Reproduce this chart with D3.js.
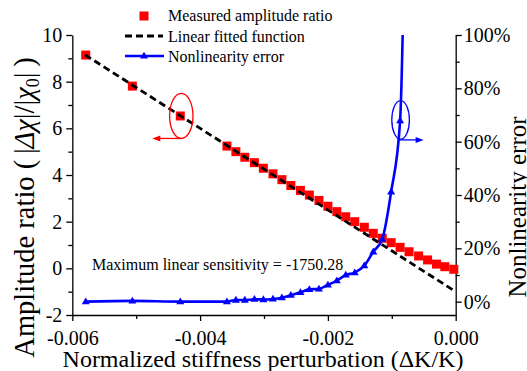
<!DOCTYPE html>
<html><head><meta charset="utf-8">
<script src="https://cdn.jsdelivr.net/npm/d3@7"></script>
<style>
body{margin:0;background:#fff}
svg{display:block}
text{font-family:"Liberation Serif","Times New Roman",serif;fill:#000}
</style>
</head><body>
<svg id="c" width="527" height="371"></svg>
<script>
// ---- data ----
const measuredX = [-0.00579, -0.00506, -0.00431, -0.00358, -0.00344, -0.00330, -0.00315, -0.00301, -0.00286, -0.00272, -0.00258, -0.00243, -0.00229, -0.00214, -0.00200, -0.00186, -0.00172, -0.00158, -0.00143, -0.00129, -0.00115, -0.00101, -0.00087, -0.00073, -0.00058, -0.00044, -0.00030, -0.00017, -0.00003];
const measuredY = [9.14, 7.81, 6.53, 5.24, 5.00, 4.76, 4.53, 4.29, 4.05, 3.80, 3.55, 3.34, 3.14, 2.91, 2.66, 2.43, 2.21, 2.00, 1.76, 1.50, 1.29, 1.10, 0.90, 0.71, 0.53, 0.36, 0.18, 0.07, -0.04];
const errorX = [-0.00579, -0.00506, -0.00431, -0.00358, -0.00344, -0.00330, -0.00315, -0.00301, -0.00286, -0.00272, -0.00258, -0.00243, -0.00229, -0.00214, -0.00200, -0.00186, -0.00172, -0.00158, -0.00143, -0.00129, -0.00115, -0.00101, -0.00087, -0.00073];
const errorPct = [0.0, 0.3, 0.0, 0.0, 0.6, 0.6, 0.9, 0.8, 1.0, 1.5, 2.4, 3.5, 4.6, 4.8, 6.3, 7.9, 10.0, 10.9, 13.5, 18.7, 23.4, 41.2, 67.9, 250];
const fitX = [-0.0058, 0.0];
const fitY = [9.15, -1.0];

const xTicks = [-0.006, -0.004, -0.002, 0.0];
const xTickLabels = ["-0.006", "-0.004", "-0.002", "0.000"];
const xMinor = [-0.005, -0.003, -0.001];
const yTicks = [-2, 0, 2, 4, 6, 8, 10];
const yTickLabels = ["-2", "0", "2", "4", "6", "8", "10"];
const yMinor = [-1, 1, 3, 5, 7, 9];
const y2Ticks = [0, 20, 40, 60, 80, 100];
const y2TickLabels = ["0%", "20%", "40%", "60%", "80%", "100%"];
const y2Minor = [10, 30, 50, 70, 90];
const legendLabels = ["Measured amplitude ratio", "Linear fitted function", "Nonlinearity error"];
const sensitivityLabel = "Maximum linear sensitivity = -1750.28";
const xTitle = "Normalized stiffness perturbation (\u0394K/K)";
const y2Title = "Nonlinearity error";
const redMarkIndex = 2;
const blueMarkIndex = 22;

// ---- layout ----
const M = {l: 72.3, r: 455.7, t: 35, b: 315};
const svg = d3.select("#c");
const x = d3.scaleLinear().domain([-0.006, 0]).range([M.l, M.r]);
const y = d3.scaleLinear().domain([-2, 10]).range([M.b, M.t]);
const y2 = d3.scaleLinear().domain([-5, 100]).range([M.b, M.t]);

svg.append("defs").append("clipPath").attr("id", "clip")
  .append("rect").attr("x", M.l - 6).attr("y", M.t).attr("width", M.r - M.l + 12).attr("height", M.b - M.t + 6);

function styleAxis(g) {
  g.selectAll("path.domain").attr("stroke", "#000").attr("stroke-width", 1.3);
  g.selectAll(".tick line").attr("stroke", "#000").attr("stroke-width", 1.3);
  g.selectAll("text").attr("font-size", 20).attr("font-family", "Liberation Serif, Times New Roman, serif").attr("fill", "#000");
}

// bottom axis
const gx = svg.append("g").attr("transform", `translate(0,${M.b})`)
  .call(d3.axisBottom(x).tickValues(xTicks).tickFormat((d, i) => xTickLabels[i]).tickSize(6).tickSizeOuter(0).tickPadding(10));
styleAxis(gx);
const gxm = svg.append("g").attr("transform", `translate(0,${M.b})`)
  .call(d3.axisBottom(x).tickValues(xMinor).tickFormat("").tickSize(4).tickSizeOuter(0));
styleAxis(gxm); gxm.select("path.domain").remove();

// left axis
const gy = svg.append("g").attr("transform", `translate(${M.l},0)`)
  .call(d3.axisLeft(y).tickValues(yTicks).tickFormat((d, i) => yTickLabels[i]).tickSize(6).tickSizeOuter(0).tickPadding(4));
styleAxis(gy);
const gym = svg.append("g").attr("transform", `translate(${M.l},0)`)
  .call(d3.axisLeft(y).tickValues(yMinor).tickFormat("").tickSize(4).tickSizeOuter(0));
styleAxis(gym); gym.select("path.domain").remove();

// right axis
const gy2 = svg.append("g").attr("transform", `translate(${M.r},0)`)
  .call(d3.axisRight(y2).tickValues(y2Ticks).tickFormat((d, i) => y2TickLabels[i]).tickSize(6).tickSizeOuter(0).tickPadding(2));
styleAxis(gy2);
const gy2m = svg.append("g").attr("transform", `translate(${M.r},0)`)
  .call(d3.axisRight(y2).tickValues(y2Minor).tickFormat("").tickSize(4).tickSizeOuter(0));
styleAxis(gy2m); gy2m.select("path.domain").remove();

// ---- marks ----
const measured = measuredX.map((v, i) => ({x: v, y: measuredY[i]}));
const errors = errorX.map((v, i) => ({x: v, y: errorPct[i]}));
const fit = fitX.map((v, i) => ({x: v, y: fitY[i]}));

svg.append("g").selectAll("rect").data(measured).join("rect")
  .attr("x", d => x(d.x) - 4.5).attr("y", d => y(d.y) - 4.5)
  .attr("width", 9).attr("height", 9).attr("fill", "#ff0000");

svg.append("path").datum(fit)
  .attr("d", d3.line().x(d => x(d.x)).y(d => y(d.y)))
  .attr("fill", "none").attr("stroke", "#000").attr("stroke-width", 2.8).attr("stroke-dasharray", "7,4");

const gBlue = svg.append("g").attr("clip-path", "url(#clip)");
gBlue.append("path").datum(errors)
  .attr("d", d3.line().x(d => x(d.x)).y(d => y2(d.y)).curve(d3.curveMonotoneX))
  .attr("fill", "none").attr("stroke", "#0000ff").attr("stroke-width", 2.6);
const tri = "M0,-4.2L4,2.6L-4,2.6Z";
gBlue.selectAll("path.tri").data(errors.filter(d => d.y <= 100)).join("path").attr("class", "tri")
  .attr("d", tri).attr("transform", d => `translate(${x(d.x)},${y2(d.y)})`).attr("fill", "#0000ff");

// ---- annotations ----
function arrow(x1, yy, x2, color) {
  const dir = Math.sign(x2 - x1);
  svg.append("line").attr("x1", x1).attr("y1", yy).attr("x2", x2 - dir * 5).attr("y2", yy)
    .attr("stroke", color).attr("stroke-width", 1.3);
  svg.append("path").attr("d", `M${x2},${yy}L${x2 - dir * 8},${yy - 3}L${x2 - dir * 8},${yy + 3}Z`).attr("fill", color);
}
const rcx = x(measuredX[redMarkIndex]) + 1, rcy = y(measuredY[redMarkIndex]);
svg.append("ellipse").attr("cx", rcx).attr("cy", rcy).attr("rx", 11.7).attr("ry", 22.5)
  .attr("fill", "none").attr("stroke", "#ff0000").attr("stroke-width", 1.3);
arrow(rcx, rcy + 22.5, rcx - 29, "#ff0000");

const bcx = x(errorX[blueMarkIndex]) + 0.5, bcy = y2(errorPct[blueMarkIndex]) - 0.7;
svg.append("ellipse").attr("cx", bcx).attr("cy", bcy).attr("rx", 8.8).attr("ry", 19.3)
  .attr("fill", "none").attr("stroke", "#0000ff").attr("stroke-width", 1.3);
arrow(bcx - 3, bcy + 20, bcx + 23, "#0000ff");

svg.append("text").attr("x", 92).attr("y", 270).attr("font-size", 16).text(sensitivityLabel);

// ---- legend ----
const lg = svg.append("g");
lg.append("rect").attr("x", 144 - 4.5).attr("y", 16 - 4.5).attr("width", 9).attr("height", 9).attr("fill", "#ff0000");
lg.append("line").attr("x1", 125).attr("x2", 163).attr("y1", 36).attr("y2", 36)
  .attr("stroke", "#000").attr("stroke-width", 2.8).attr("stroke-dasharray", "7,4");
lg.append("line").attr("x1", 125).attr("x2", 164).attr("y1", 56).attr("y2", 56)
  .attr("stroke", "#0000ff").attr("stroke-width", 2.6);
lg.append("path").attr("d", tri).attr("transform", "translate(144,56)").attr("fill", "#0000ff");
const legendY = [20.5, 41.5, 62];
legendLabels.forEach((t, i) => {
  lg.append("text").attr("x", 168).attr("y", legendY[i]).attr("font-size", 16).text(t);
});

// ---- axis titles ----
svg.append("text").attr("x", (M.l + M.r) / 2 - 1).attr("y", 367).attr("text-anchor", "middle")
  .attr("font-size", 24).text(xTitle);

const yt = svg.append("text").attr("transform", `translate(34,207.5) rotate(-90)`)
  .attr("text-anchor", "middle").attr("font-size", 28.5);
yt.append("tspan").text("Amplitude ratio (\u2009|");
yt.append("tspan").attr("font-style", "italic").text("\u0394\u03C7");
yt.append("tspan").text("|/|");
yt.append("tspan").attr("font-style", "italic").text("\u03C7");
yt.append("tspan").attr("font-size", 18).attr("dy", 5).text("0");
yt.append("tspan").attr("dy", -5).text("|\u2009)");

svg.append("text").attr("transform", `translate(526,207) rotate(-90)`)
  .attr("text-anchor", "middle").attr("font-size", 25).text(y2Title);
</script>
</body></html>
